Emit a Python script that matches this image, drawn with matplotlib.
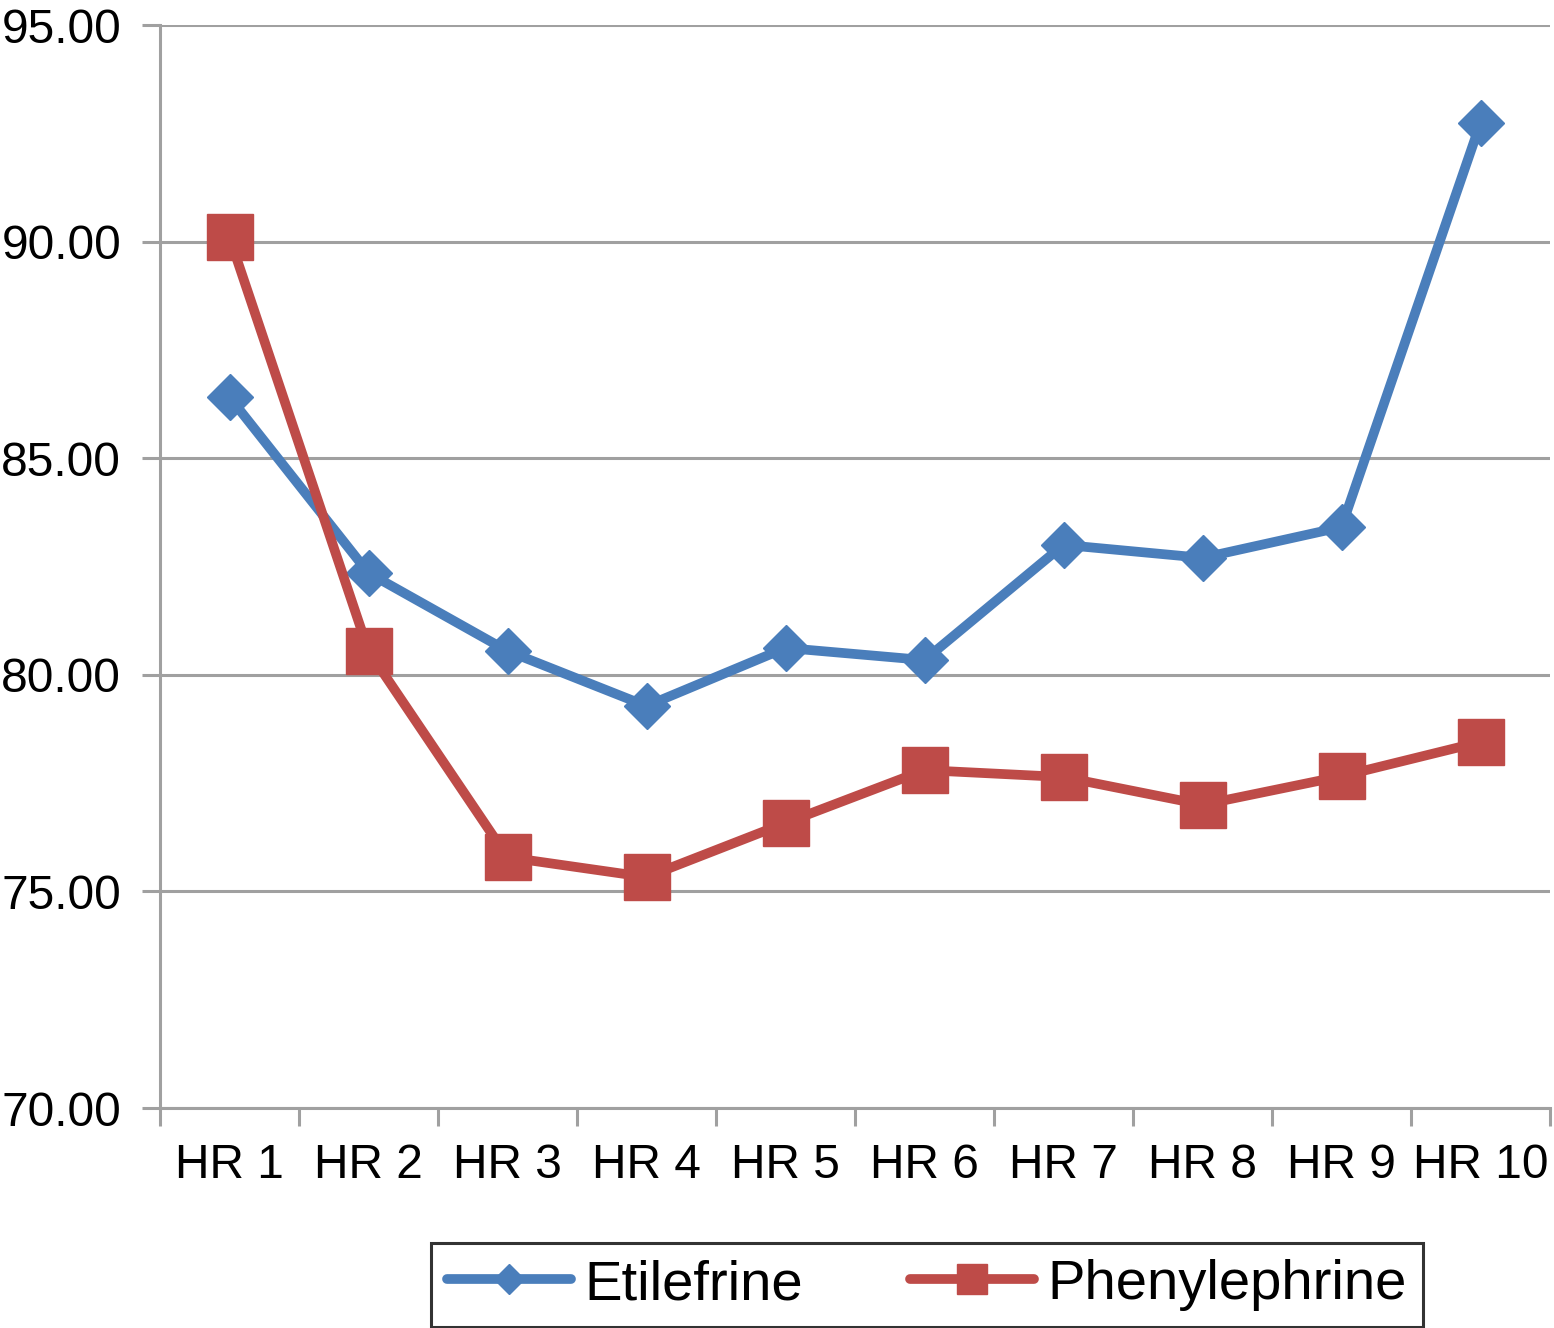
import matplotlib
matplotlib.use("Agg")
import matplotlib.pyplot as plt
import numpy as np

plt.rcParams["font.family"] = ["Liberation Sans", "DejaVu Sans"]

categories = ["HR 1", "HR 2", "HR 3", "HR 4", "HR 5", "HR 6", "HR 7", "HR 8", "HR 9", "HR 10"]
etilefrine = [86.41, 82.35, 80.55, 79.28, 80.62, 80.34, 83.00, 82.70, 83.41, 92.74]
phenylephrine = [90.10, 80.55, 75.79, 75.33, 76.58, 77.80, 77.64, 77.00, 77.66, 78.45]
y_ticks = [70, 75, 80, 85, 90, 95]

BLUE = "#4A7EBB"
RED = "#BE4B48"
GRID = "#A0A0A0"

fig = plt.figure(figsize=(15.54, 13.28), dpi=100)
ax = fig.add_axes([160 / 1554, 1 - 1108 / 1328, 1390 / 1554, 1083 / 1328])

x = np.arange(len(categories))
ax.plot(x, etilefrine, color=BLUE, lw=7, marker="D", ms=23, mec=BLUE,
        label="Etilefrine", solid_joinstyle="round", solid_capstyle="round", zorder=3)
ax.plot(x, phenylephrine, color=RED, lw=7, marker="s", ms=33, mec=RED,
        label="Phenylephrine", solid_joinstyle="round", solid_capstyle="round", zorder=3)

ax.set_xlim(-0.5, len(categories) - 0.5)
ax.set_ylim(70, 95)
ax.set_yticks(y_ticks)
ax.set_yticklabels(["%.2f" % v for v in y_ticks])
ax.set_xticks(x)
ax.set_xticklabels(categories)
ax.set_xticks(np.arange(-0.5, len(categories)), minor=True)

ax.grid(axis="y", color=GRID, lw=2.2, zorder=0)
ax.set_axisbelow(True)
for s in ["top", "right"]:
    ax.spines[s].set_visible(False)
for s in ["left", "bottom"]:
    ax.spines[s].set_color(GRID)
    ax.spines[s].set_linewidth(2.2)

ax.tick_params(axis="y", which="major", length=13, width=2.2, color=GRID,
               labelsize=34.5, pad=15)
ax.tick_params(axis="x", which="major", length=0, labelsize=34.5, pad=25)
ax.tick_params(axis="x", which="minor", length=13, width=2.2, color=GRID)

leg = fig.legend(loc="center", bbox_to_anchor=(927 / 1554, 1 - 1285 / 1328),
                 ncol=2, fontsize=40.5, frameon=True, fancybox=False,
                 handlelength=2.2, handletextpad=0.25, columnspacing=1.9,
                 borderpad=0.28, markerscale=0.65)
leg.get_frame().set_edgecolor("black")
leg.get_frame().set_linewidth(2.2)

fig.savefig("out.png", dpi=100)
